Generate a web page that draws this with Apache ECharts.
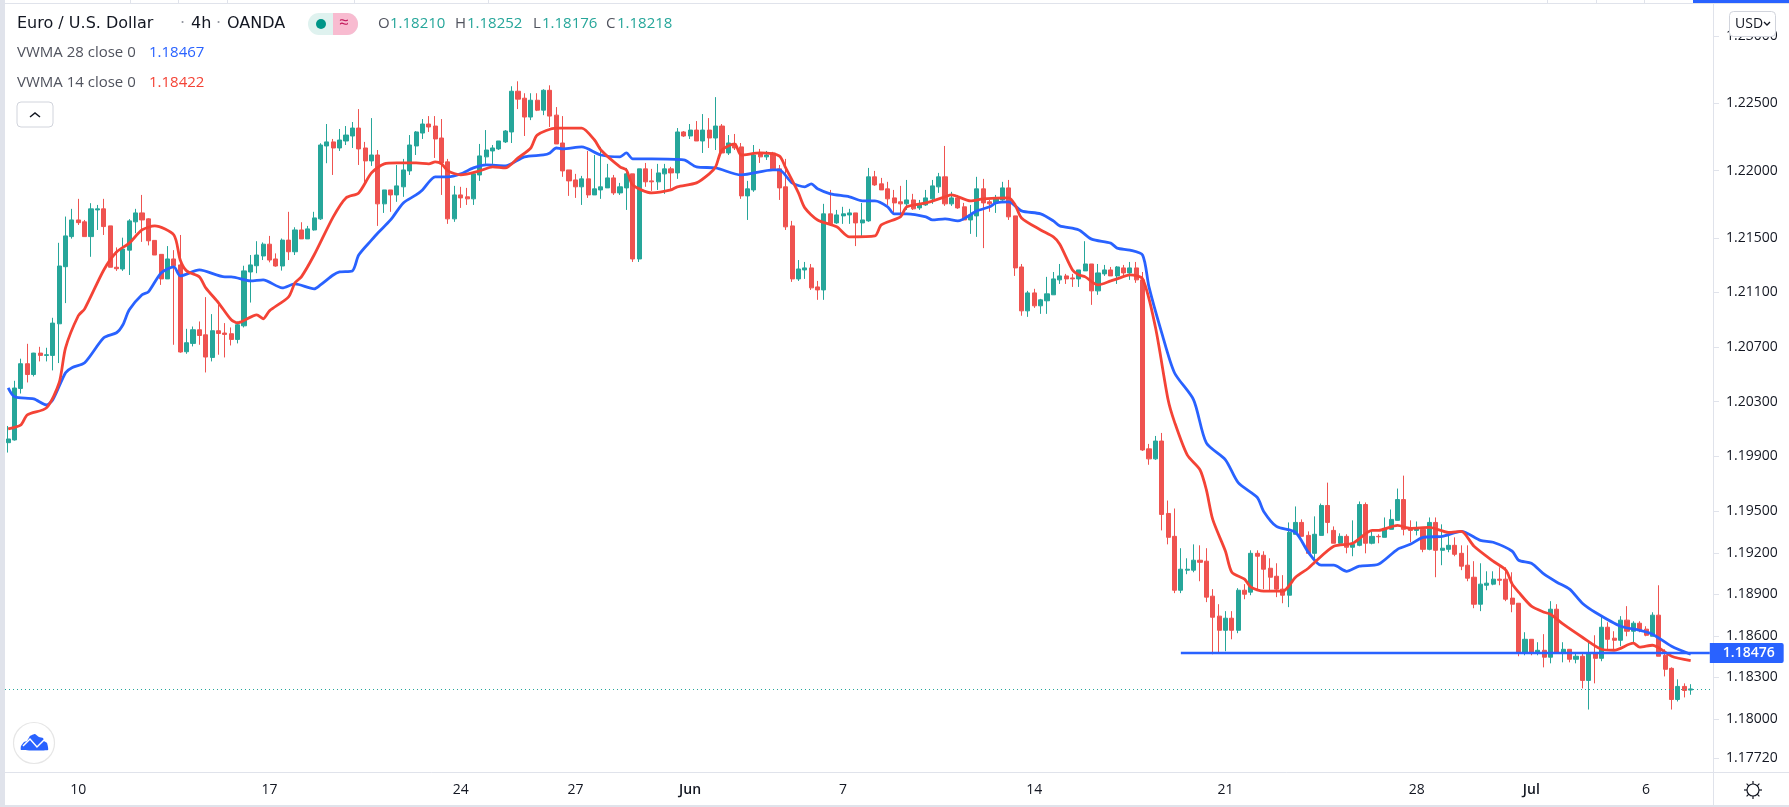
<!DOCTYPE html>
<html lang="en">

<head>
  <meta charset="UTF-8">
  <title>Euro / U.S. Dollar 4h OANDA</title>
  <script src="https://cdn.jsdelivr.net/npm/echarts@6/dist/echarts.min.js"></script>
</head>

<body style="margin: 0;padding: 0;background: #fff;">
  <div id="main" style="width: 1789px;height: 807px;"></div>
  <script>
    // candles: open, close, low, high
    const ohlc = [
      [1.20000,1.20027,1.19928,1.20122],[1.20020,1.20399,1.20015,1.20452],[1.20396,1.20577,1.20359,1.20614],[1.20577,1.20498,1.20440,1.20723],[1.20498,1.20655,1.20484,1.20657],
      [1.20655,1.20638,1.20594,1.20701],[1.20638,1.20643,1.20594,1.20694],[1.20638,1.20875,1.20528,1.20914],[1.20870,1.21295,1.20582,1.21466],[1.21290,1.21517,1.21022,1.21660],
      [1.21512,1.21635,1.21497,1.21717],[1.21635,1.21615,1.21598,1.21791],[1.21621,1.21512,1.21512,1.21635],[1.21512,1.21717,1.21363,1.21759],[1.21709,1.21717,1.21561,1.21746],
      [1.21717,1.21586,1.21524,1.21791],[1.21591,1.21286,1.21286,1.21591],[1.21286,1.21275,1.21259,1.21432],[1.21273,1.21420,1.21259,1.21504],[1.21412,1.21628,1.21229,1.21641],
      [1.21621,1.21687,1.21537,1.21717],[1.21687,1.21635,1.21473,1.21820],[1.21643,1.21481,1.21447,1.21648],[1.21484,1.21376,1.21376,1.21484],[1.21381,1.21200,1.21156,1.21381],
      [1.21200,1.21347,1.21200,1.21442],[1.21347,1.21297,1.20716,1.21412],[1.21303,1.20663,1.20658,1.21524],[1.20665,1.20731,1.20650,1.20833],[1.20726,1.20826,1.20704,1.20850],
      [1.20826,1.20784,1.20716,1.20887],[1.20789,1.20626,1.20513,1.21066],[1.20623,1.20819,1.20594,1.20941],[1.20819,1.20799,1.20643,1.21009],[1.20802,1.20792,1.20623,1.20875],
      [1.20797,1.20755,1.20711,1.20843],[1.20755,1.20863,1.20726,1.20887],[1.20855,1.21259,1.20843,1.21297],[1.21251,1.21303,1.21026,1.21376],[1.21297,1.21376,1.21242,1.21478],
      [1.21369,1.21456,1.21339,1.21469],[1.21456,1.21339,1.21322,1.21517],[1.21347,1.21295,1.21290,1.21388],[1.21295,1.21486,1.21261,1.21498],[1.21486,1.21400,1.21339,1.21695],
      [1.21400,1.21561,1.21376,1.21581],[1.21561,1.21495,1.21495,1.21618],[1.21495,1.21569,1.21495,1.21591],[1.21561,1.21650,1.21556,1.21695],[1.21643,1.22190,1.21635,1.22203],
      [1.22183,1.22213,1.22055,1.22346],[1.22213,1.22168,1.21968,1.22235],[1.22168,1.22227,1.22146,1.22309],[1.22220,1.22264,1.22190,1.22331],[1.22257,1.22316,1.22168,1.22361],
      [1.22316,1.22161,1.22042,1.22457],[1.22168,1.22072,1.21887,1.22213],[1.22072,1.22116,1.22035,1.22390],[1.22116,1.21754,1.21591,1.22153],[1.21754,1.21857,1.21687,1.21857],
      [1.21857,1.21820,1.21695,1.21857],[1.21820,1.21887,1.21769,1.22042],[1.21880,1.22005,1.21806,1.22087],[1.21998,1.22190,1.21968,1.22264],[1.22183,1.22287,1.22116,1.22294],
      [1.22279,1.22346,1.22235,1.22383],[1.22346,1.22324,1.22287,1.22405],[1.22331,1.22235,1.22094,1.22405],[1.22242,1.22057,1.21820,1.22383],[1.22065,1.21643,1.21606,1.22087],
      [1.21643,1.21820,1.21621,1.21887],[1.21820,1.21798,1.21724,1.21880],[1.21806,1.21791,1.21746,1.21872],[1.21791,1.21976,1.21746,1.21991],[1.21968,1.22109,1.21924,1.22198],
      [1.22102,1.22153,1.22050,1.22301],[1.22146,1.22168,1.22050,1.22190],[1.22161,1.22220,1.22153,1.22220],[1.22213,1.22294,1.22205,1.22301],[1.22287,1.22590,1.22205,1.22627],
      [1.22590,1.22531,1.22457,1.22664],[1.22538,1.22398,1.22257,1.22575],[1.22398,1.22523,1.22375,1.22575],[1.22523,1.22449,1.22442,1.22575],[1.22449,1.22597,1.22412,1.22605],
      [1.22597,1.22405,1.22324,1.22634],[1.22412,1.22198,1.22198,1.22472],[1.22205,1.21998,1.21954,1.22405],[1.22005,1.21924,1.21813,1.22005],[1.21931,1.21880,1.21798,1.21976],
      [1.21880,1.21939,1.21746,1.21961],[1.21939,1.21820,1.21798,1.22146],[1.21820,1.21865,1.21820,1.22116],[1.21857,1.21880,1.21791,1.22176],[1.21872,1.21946,1.21872,1.22050],
      [1.21946,1.21835,1.21820,1.21968],[1.21835,1.21880,1.21820,1.21909],[1.21872,1.21976,1.21709,1.22020],[1.21976,1.21347,1.21325,1.21976],[1.21347,1.22013,1.21325,1.22013],
      [1.22013,1.21917,1.21880,1.22057],[1.21924,1.21917,1.21850,1.22013],[1.21917,1.21983,1.21857,1.22050],[1.21976,1.22013,1.21828,1.22050],[1.22013,1.21983,1.21865,1.22028],
      [1.21983,1.22287,1.21939,1.22316],[1.22287,1.22257,1.22250,1.22294],[1.22257,1.22301,1.22235,1.22346],[1.22301,1.22220,1.22220,1.22368],[1.22220,1.22301,1.22131,1.22420],
      [1.22301,1.22242,1.22168,1.22390],[1.22242,1.22331,1.22153,1.22546],[1.22331,1.22131,1.22131,1.22346],[1.22131,1.22205,1.22116,1.22264],[1.22198,1.22168,1.22153,1.22272],
      [1.22176,1.21813,1.21791,1.22205],[1.21813,1.21865,1.21635,1.21924],[1.21857,1.22116,1.21843,1.22190],[1.22124,1.22102,1.22057,1.22161],[1.22102,1.22116,1.22079,1.22146],
      [1.22131,1.22013,1.22013,1.22139],[1.22013,1.21872,1.21783,1.22042],[1.21880,1.21584,1.21561,1.22087],[1.21591,1.21200,1.21178,1.21628],[1.21200,1.21273,1.21185,1.21339],
      [1.21266,1.21281,1.21200,1.21325],[1.21281,1.21134,1.21119,1.21310],[1.21141,1.21119,1.21046,1.21185],[1.21119,1.21680,1.21046,1.21754],[1.21680,1.21606,1.21606,1.21857],
      [1.21613,1.21672,1.21606,1.21709],[1.21665,1.21680,1.21606,1.21732],[1.21672,1.21687,1.21606,1.21717],[1.21687,1.21613,1.21442,1.21687],[1.21613,1.21635,1.21517,1.21761],
      [1.21628,1.21954,1.21621,1.22020],[1.21954,1.21894,1.21887,1.21998],[1.21902,1.21857,1.21857,1.21946],[1.21865,1.21791,1.21746,1.21917],[1.21798,1.21761,1.21687,1.21857],
      [1.21769,1.21754,1.21665,1.21887],[1.21754,1.21783,1.21709,1.21931],[1.21783,1.21717,1.21709,1.21828],[1.21724,1.21754,1.21709,1.21783],[1.21746,1.21798,1.21739,1.21857],
      [1.21791,1.21887,1.21754,1.21931],[1.21880,1.21954,1.21835,1.21983],[1.21954,1.21754,1.21739,1.22183],[1.21754,1.21798,1.21739,1.21843],[1.21798,1.21724,1.21717,1.21820],
      [1.21732,1.21635,1.21635,1.21761],[1.21635,1.21672,1.21532,1.21746],[1.21665,1.21865,1.21510,1.21954],[1.21865,1.21761,1.21427,1.21939],[1.21769,1.21754,1.21695,1.21783],
      [1.21761,1.21791,1.21687,1.21820],[1.21783,1.21872,1.21776,1.21917],[1.21872,1.21658,1.21635,1.21931],[1.21665,1.21281,1.21222,1.21665],[1.21288,1.20965,1.20929,1.21310],
      [1.20965,1.21097,1.20921,1.21112],[1.21097,1.21002,1.20987,1.21127],[1.21002,1.21046,1.20943,1.21053],[1.21039,1.21090,1.20943,1.21215],[1.21083,1.21200,1.21083,1.21251],
      [1.21193,1.21222,1.21163,1.21310],[1.21222,1.21200,1.21163,1.21237],[1.21207,1.21200,1.21141,1.21237],[1.21200,1.21266,1.21141,1.21266],[1.21259,1.21310,1.21259,1.21478],
      [1.21310,1.21112,1.21009,1.21310],[1.21112,1.21244,1.21083,1.21310],[1.21237,1.21266,1.21222,1.21303],[1.21266,1.21222,1.21222,1.21288],[1.21222,1.21288,1.21163,1.21295],
      [1.21281,1.21244,1.21222,1.21303],[1.21244,1.21281,1.21193,1.21325],[1.21281,1.21193,1.21171,1.21325],[1.21193,1.19947,1.19940,1.21251],[1.19955,1.19882,1.19839,1.19991],
      [1.19882,1.20012,1.19875,1.20049],[1.20012,1.19478,1.19362,1.20071],[1.19485,1.19312,1.19261,1.19579],[1.19319,1.18929,1.18908,1.19521],[1.18929,1.19081,1.18908,1.19233],
      [1.19074,1.19081,1.19045,1.19160],[1.19074,1.19146,1.19059,1.19261],[1.19146,1.19131,1.18994,1.19254],[1.19139,1.18879,1.18843,1.19233],[1.18886,1.18734,1.18467,1.18937],
      [1.18742,1.18640,1.18474,1.18828],[1.18640,1.18727,1.18489,1.18778],[1.18727,1.18640,1.18575,1.18778],[1.18640,1.18929,1.18619,1.18944],[1.18929,1.18900,1.18864,1.18973],
      [1.18915,1.19196,1.18893,1.19218],[1.19196,1.19175,1.18937,1.19218],[1.19182,1.19081,1.18937,1.19211],[1.19088,1.19023,1.18922,1.19160],[1.19030,1.18937,1.18879,1.19124],
      [1.18937,1.18893,1.18835,1.19038],[1.18893,1.19348,1.18807,1.19420],[1.19334,1.19420,1.19334,1.19536],[1.19420,1.19319,1.19319,1.19442],[1.19326,1.19196,1.19189,1.19355],
      [1.19196,1.19334,1.19117,1.19464],[1.19326,1.19543,1.19326,1.19557],[1.19543,1.19420,1.19341,1.19709],[1.19362,1.19269,1.19269,1.19391],[1.19269,1.19319,1.19261,1.19341],
      [1.19319,1.19240,1.19196,1.19334],[1.19240,1.19261,1.19175,1.19435],[1.19254,1.19550,1.19247,1.19572],[1.19550,1.19269,1.19196,1.19565],[1.19269,1.19319,1.19261,1.19355],
      [1.19319,1.19316,1.19269,1.19334],[1.19312,1.19377,1.19312,1.19456],[1.19370,1.19442,1.19370,1.19514],[1.19435,1.19586,1.19435,1.19666],[1.19586,1.19370,1.19326,1.19760],
      [1.19377,1.19362,1.19276,1.19435],[1.19362,1.19377,1.19326,1.19427],[1.19370,1.19225,1.19204,1.19370],[1.19225,1.19420,1.19218,1.19456],[1.19420,1.19218,1.19023,1.19456],
      [1.19218,1.19233,1.19110,1.19406],[1.19225,1.19254,1.19204,1.19334],[1.19254,1.19189,1.19175,1.19312],[1.19196,1.19103,1.19074,1.19254],[1.19110,1.19016,1.18994,1.19254],
      [1.19023,1.18828,1.18799,1.19139],[1.18828,1.18973,1.18778,1.19124],[1.18965,1.18980,1.18929,1.19066],[1.18973,1.19009,1.18965,1.19066],[1.19009,1.19001,1.18965,1.19095],
      [1.19009,1.18864,1.18850,1.19095],[1.18872,1.18828,1.18770,1.19059],[1.18835,1.18482,1.18453,1.18835],[1.18482,1.18575,1.18460,1.18626],[1.18575,1.18482,1.18460,1.18575],
      [1.18482,1.18496,1.18460,1.18554],[1.18496,1.18446,1.18373,1.18612],[1.18446,1.18792,1.18402,1.18850],[1.18792,1.18482,1.18482,1.18828],[1.18482,1.18503,1.18409,1.18554],
      [1.18503,1.18431,1.18409,1.18503],[1.18431,1.18453,1.18402,1.18474],[1.18453,1.18279,1.18222,1.18474],[1.18279,1.18474,1.18070,1.18561],[1.18474,1.18438,1.18258,1.18604],
      [1.18438,1.18662,1.18417,1.18749],[1.18662,1.18575,1.18503,1.18698],[1.18583,1.18568,1.18503,1.18633],[1.18568,1.18713,1.18525,1.18742],[1.18713,1.18633,1.18597,1.18814],
      [1.18633,1.18691,1.18547,1.18705],[1.18691,1.18640,1.18626,1.18705],[1.18648,1.18604,1.18597,1.18669],[1.18597,1.18749,1.18597,1.18770],[1.18749,1.18453,1.18453,1.18965],
      [1.18460,1.18359,1.18308,1.18503],[1.18366,1.18142,1.18070,1.18373],[1.18142,1.18236,1.18128,1.18287],[1.18236,1.18207,1.18157,1.18258],[1.18210,1.18218,1.18176,1.18252]
    ];

    // [candle number, value] read along the averages
    const vwma28 = [
      [0,1.20401],[1,1.20335],[4,1.20320],[6,1.20276],[7,1.20313],[9,1.20511],[10,1.20548],[12,1.20584],[15,1.20767],[17,1.20804],[18,1.20863],[19,1.20973],[21,1.21083],[22,1.21105],[24,1.21244],[26,1.21288],[27,1.21222],[30,1.21266],[34,1.21215],[35,1.21215],[38,1.21185],[40,1.21193],[43,1.21134],[45,1.21163],[48,1.21127],[49,1.21156],[51,1.21229],[52,1.21251],[54,1.21259],[55,1.21376],[57,1.21486],[58,1.21539],[60,1.21635],[62,1.21761],[64,1.21820],[65,1.21857],[67,1.21954],[69,1.21954],[71,1.21976],[73,1.22020],[75,1.22042],[78,1.22035],[81,1.22102],[84,1.22116],[85,1.22131],[86,1.22168],[87,1.22161],[90,1.22176],[93,1.22116],[96,1.22102],[97,1.22131],[98,1.22087],[101,1.22087],[106,1.22079],[108,1.22028],[111,1.22020],[115,1.21968],[120,1.22005],[121,1.22005],[123,1.21909],[125,1.21880],[126,1.21902],[127,1.21865],[129,1.21828],[132,1.21806],[134,1.21776],[136,1.21776],[138,1.21732],[139,1.21680],[141,1.21680],[144,1.21658],[145,1.21635],[147,1.21643],[149,1.21628],[152,1.21702],[154,1.21732],[155,1.21761],[157,1.21769],[159,1.21702],[162,1.21680],[164,1.21628],[165,1.21591],[168,1.21561],[170,1.21493],[173,1.21464],[174,1.21427],[176,1.21412],[178,1.21376],[179,1.21141],[181,1.20804],[183,1.20511],[186,1.20313],[188,1.19998],[191,1.19875],[193,1.19709],[196,1.19601],[197,1.19500],[199,1.19391],[202,1.19348],[204,1.19204],[206,1.19110],[208,1.19110],[210,1.19066],[212,1.19103],[215,1.19117],[218,1.19225],[220,1.19261],[222,1.19312],[225,1.19319],[228,1.19355],[231,1.19290],[233,1.19276],[236,1.19211],[237,1.19146],[239,1.19124],[241,1.19045],[243,1.18987],[245,1.18937],[247,1.18835],[249,1.18770],[253,1.18669],[256,1.18640],[258,1.18612],[261,1.18525],[264,1.18467]
    ];
    const vwma14 = [
      [0,1.20100],[2,1.20130],[3,1.20203],[6,1.20254],[8,1.20438],[9,1.20694],[11,1.20929],[12,1.20980],[15,1.21266],[17,1.21398],[19,1.21464],[21,1.21561],[23,1.21591],[26,1.21524],[27,1.21339],[28,1.21259],[30,1.21215],[31,1.21134],[33,1.21024],[35,1.20899],[36,1.20877],[39,1.20936],[40,1.20907],[41,1.20965],[44,1.21068],[45,1.21171],[46,1.21215],[48,1.21376],[51,1.21658],[53,1.21798],[55,1.21835],[57,1.21983],[59,1.22050],[61,1.22057],[64,1.22057],[66,1.22050],[67,1.22065],[68,1.22050],[69,1.21998],[71,1.21968],[74,1.21998],[76,1.22028],[78,1.22020],[80,1.22094],[82,1.22168],[83,1.22264],[86,1.22316],[89,1.22316],[90,1.22316],[92,1.22227],[93,1.22153],[96,1.22028],[97,1.22005],[98,1.21894],[101,1.21835],[104,1.21857],[105,1.21880],[108,1.21909],[110,1.21976],[111,1.22028],[112,1.22153],[114,1.22198],[115,1.22116],[118,1.22131],[121,1.22109],[122,1.22020],[124,1.21835],[125,1.21724],[127,1.21635],[130,1.21584],[132,1.21510],[136,1.21517],[137,1.21598],[140,1.21658],[141,1.21732],[144,1.21761],[147,1.21806],[148,1.21820],[151,1.21776],[153,1.21791],[157,1.21798],[158,1.21746],[159,1.21650],[162,1.21561],[164,1.21510],[165,1.21456],[167,1.21266],[168,1.21229],[169,1.21215],[171,1.21156],[173,1.21185],[174,1.21200],[176,1.21229],[178,1.21200],[180,1.20848],[182,1.20313],[183,1.20152],[185,1.19911],[187,1.19803],[188,1.19658],[189,1.19442],[191,1.19211],[192,1.19059],[194,1.19009],[195,1.18951],[197,1.18922],[200,1.18922],[202,1.19023],[204,1.19088],[205,1.19131],[208,1.19247],[211,1.19269],[214,1.19362],[215,1.19362],[218,1.19399],[220,1.19377],[223,1.19384],[226,1.19348],[228,1.19355],[230,1.19247],[233,1.19139],[235,1.19074],[236,1.18973],[237,1.18915],[239,1.18814],[241,1.18770],[242,1.18756],[244,1.18684],[247,1.18590],[250,1.18503],[252,1.18496],[255,1.18547],[256,1.18518],[258,1.18532],[261,1.18453],[264,1.18422]
    ];

    const lastPrice = 1.18218;
    const levelPrice = 1.18476;
    const levelStart = 184;
    const slotCount = 268;
    const tickIndex = [11, 41, 71, 89, 107, 131, 161, 191, 221, 239, 257];
    const tickLabels = ['10', '17', '24', '27', 'Jun', '7', '14', '21', '28', 'Jul', '6'];
    const priceTicks = [1.17720, 1.18000, 1.18300, 1.18600, 1.18900, 1.19200, 1.19500, 1.19900, 1.20300, 1.20700, 1.21100, 1.21500, 1.22000, 1.22500, 1.23000];
    const categories = Array.from({ length: slotCount }, (v, i) => {
      const k = tickIndex.indexOf(i);
      return k < 0 ? '' : tickLabels[k];
    });

    const UP = '#26a69a', DOWN = '#ef5350', BLUE = '#2962ff', RED = '#f44336';
    const INK = '#131722', GREY = '#50535e', EDGE = '#e0e3eb';
    const FONT = '"Open Sans"';

    function txt(x, y, text, fill, size, family) {
      return {
        type: 'text', x: x, y: y, z: 100,
        style: { text: text, fill: fill, font: size + 'px ' + (family || FONT), verticalAlign: 'middle' }
      };
    }
    function bar(x, y, w, h, fill) {
      return { type: 'rect', z: 90, shape: { x: x, y: y, width: w, height: h }, style: { fill: fill } };
    }
    function stroke(points, color, width, z) {
      return { type: 'polyline', z: z || 91, shape: { points: points }, style: { fill: 'none', stroke: color, lineWidth: width } };
    }

    const TITLE = '"DejaVu Sans"';
    const chrome = [
      bar(0, 0, 5, 807, EDGE),
      bar(0, 3, 1789, 1, EDGE),
      bar(0, 805, 1789, 2, EDGE),
      bar(1713, 772, 76, 1, EDGE),
      bar(1713, 772, 1, 34, EDGE),
      bar(1693, 0, 96, 3, BLUE),
      txt(17, 24, 'Euro / U.S. Dollar', INK, 16, TITLE),
      txt(180, 24, '·', '#9598a1', 16, TITLE),
      txt(191, 24, '4h', INK, 16, TITLE),
      txt(216, 24, '·', '#9598a1', 16, TITLE),
      txt(227, 24, 'OANDA', INK, 16, TITLE),
      { type: 'rect', z: 90, shape: { x: 308, y: 13, width: 50, height: 22, r: [11, 11, 11, 11] }, style: { fill: '#dff2ef' } },
      { type: 'rect', z: 90, shape: { x: 333, y: 13, width: 25, height: 22, r: [0, 11, 11, 0] }, style: { fill: '#f8bbd0' } },
      { type: 'circle', z: 91, shape: { cx: 321, cy: 24, r: 5 }, style: { fill: '#009688' } },
      txt(339, 23, '≈', '#c2185b', 17),
      txt(378, 24, 'O', GREY, 15), txt(390, 24, '1.18210', UP, 15),
      txt(455, 24, 'H', GREY, 15), txt(467, 24, '1.18252', UP, 15),
      txt(533, 24, 'L', GREY, 15), txt(542, 24, '1.18176', UP, 15),
      txt(606, 24, 'C', GREY, 15), txt(617, 24, '1.18218', UP, 15),
      txt(17, 53, 'VWMA 28 close 0', GREY, 15),
      txt(149, 53, '1.18467', BLUE, 15),
      txt(17, 83, 'VWMA 14 close 0', GREY, 15),
      txt(149, 83, '1.18422', RED, 15),
      { type: 'rect', z: 90, shape: { x: 17, y: 102, width: 36, height: 25, r: 4 }, style: { fill: '#fff', stroke: '#d1d4dc', lineWidth: 1 } },
      stroke([[30, 117], [35, 113], [40, 117]], INK, 1.5),
      { type: 'circle', z: 90, shape: { cx: 34, cy: 743, r: 20.5 }, style: { fill: '#fff', stroke: '#e6e6e6', lineWidth: 1.2 } },
      { type: 'polygon', z: 91, shape: { points: [[21, 750], [21, 746], [24, 742], [27, 741], [30, 736], [35, 734], [39, 737], [43, 738], [44, 741], [47, 743], [48, 750]], smooth: 0.15 }, style: { fill: BLUE } },
      stroke([[23, 746], [30, 739], [37, 747], [44, 740]], '#fff', 1.5, 92),
      { type: 'rect', z: 95, shape: { x: 1729.5, y: 11.5, width: 46, height: 25, r: 4 }, style: { fill: '#fff', stroke: '#d1d4dc', lineWidth: 1 } },
      txt(1735, 24, 'USD', INK, 14),
      stroke([[1764, 22], [1767, 25], [1770, 22]], INK, 1.3, 101),
      { type: 'circle', z: 91, shape: { cx: 1753, cy: 790, r: 6 }, style: { fill: 'none', stroke: INK, lineWidth: 1.2 } },
      stroke([[1753, 781], [1753, 784]], INK, 1.2), stroke([[1753, 796], [1753, 799]], INK, 1.2),
      stroke([[1744, 790], [1747, 790]], INK, 1.2), stroke([[1759, 790], [1762, 790]], INK, 1.2),
      stroke([[1746.6, 783.6], [1748.8, 785.8]], INK, 1.2), stroke([[1757.2, 794.2], [1759.4, 796.4]], INK, 1.2),
      stroke([[1746.6, 796.4], [1748.8, 794.2]], INK, 1.2), stroke([[1757.2, 785.8], [1759.4, 783.6]], INK, 1.2)
    ];
    [130, 178, 227, 354, 488, 1547, 1596, 1644].forEach(x => chrome.push(bar(x, 0, 1, 3, EDGE)));

    const myChart = echarts.init(document.getElementById('main'));
    const option = {
      animation: false,
      backgroundColor: '#ffffff',
      graphic: chrome,
      grid: { left: 5, right: 76, top: 4, bottom: 35, containLabel: false },
      xAxis: {
        type: 'category',
        data: categories,
        axisLine: { lineStyle: { color: EDGE, width: 1 } },
        axisTick: { alignWithLabel: true, length: 6, lineStyle: { color: EDGE }, interval: i => tickIndex.includes(i) },
        axisLabel: {
          interval: i => tickIndex.includes(i),
          margin: 11,
          color: INK,
          fontFamily: FONT,
          fontSize: 14,
          formatter: v => (v === 'Jun' || v === 'Jul') ? '{m|' + v + '}' : v,
          rich: { m: { fontWeight: 600, fontFamily: FONT, fontSize: 14, color: INK } }
        },
        splitLine: { show: false }
      },
      yAxis: {
        type: 'log',
        logBase: 10,
        position: 'right',
        min: 1.176228,
        max: 1.232414,
        axisLine: { show: true, lineStyle: { color: EDGE, width: 1 } },
        axisTick: { show: true, length: 6, lineStyle: { color: EDGE }, customValues: priceTicks },
        axisLabel: {
          margin: 13,
          color: INK,
          fontFamily: FONT,
          fontSize: 14,
          customValues: priceTicks,
          formatter: v => Number(v).toFixed(5)
        },
        splitLine: { show: false },
        minorTick: { show: false }
      },
      series: [
        {
          type: 'candlestick',
          data: ohlc,
          barWidth: 4.6,
          itemStyle: { color: UP, color0: DOWN, borderColor: UP, borderColor0: DOWN, borderWidth: 1 },
          markLine: {
            silent: true,
            symbol: 'none',
            precision: 5,
            label: { show: false },
            lineStyle: { type: [1, 3], color: UP, width: 1 },
            data: [{ yAxis: lastPrice }]
          }
        },
        {
          type: 'line', name: 'VWMA 28', data: vwma28, showSymbol: false, z: 5, smooth: 0.25,
          lineStyle: { color: BLUE, width: 2.8 }, itemStyle: { color: BLUE }
        },
        {
          type: 'line', name: 'VWMA 14', data: vwma14, showSymbol: false, z: 6, smooth: 0.25,
          lineStyle: { color: RED, width: 2.8 }, itemStyle: { color: RED }
        },
        {
          type: 'line', name: 'Level',
          data: [[levelStart, levelPrice], [slotCount - 1, levelPrice]],
          showSymbol: false, z: 7,
          lineStyle: { color: BLUE, width: 2.4 }, itemStyle: { color: BLUE },
          endLabel: {
            show: true,
            distance: 0,
            formatter: () => levelPrice.toFixed(5),
            color: '#fff',
            fontFamily: FONT,
            fontWeight: 600,
            fontSize: 14,
            backgroundColor: BLUE,
            borderRadius: [0, 2, 2, 0],
            padding: [3, 9, 3, 13]
          }
        }
      ]
    };

    option && myChart.setOption(option);
  </script>
</body>

</html>
